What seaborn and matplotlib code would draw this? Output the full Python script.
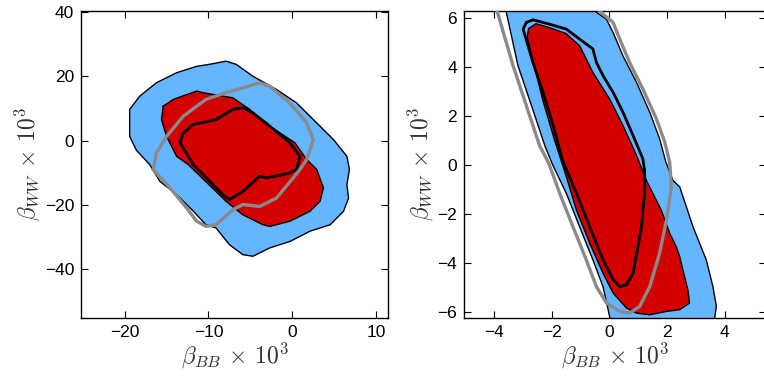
import numpy as np
import pandas as pd
import matplotlib
matplotlib.use("Agg")
import matplotlib.pyplot as plt
import seaborn as sns

# ---------------- data ----------------
# Left panel: outer (blue) region boundary
L_blue_x = [-19.4, -19.4, -18.2, -16.2, -13.8, -11.4, -9.9, -7.9, -6.7, -4.7, -1.9, 0.5, 2.9, 4.9, 6.5, 6.8,
            6.5, 6.7, 6.1, 4.5, 2.1, -0.3, -2.7, -4.7, -5.9, -7.5, -9.1, -10.3, -11.8, -13.8, -15.8, -17.0, -18.6]
L_blue_y = [1.3, 9.7, 13.8, 18.0, 21.1, 23.1, 23.7, 24.7, 23.7, 20.0, 15.9, 11.7, 5.5, 0.3, -4.9, -9.0,
            -13.7, -17.9, -22.0, -26.2, -28.2, -31.4, -33.4, -36.0, -35.5, -32.4, -27.2, -26.2, -22.0, -16.8,
            -12.7, -7.5, -3.0]
# Left panel: inner (red) region boundary
L_red_x = [-15.4, -14.2, -11.4, -10.7, -8.3, -7.1, -5.1, -2.7, 0.3, 1.7, 2.9, 3.7, 3.3, 2.1, -0.3, -2.7,
           -3.5, -5.9, -7.9, -12.4, -13.8, -15.0, -15.6]
L_red_y = [10.7, 12.8, 15.4, 14.9, 13.8, 13.3, 9.7, 4.5, -0.7, -5.9, -9.0, -14.7, -18.9, -22.0, -25.1, -26.7,
           -26.2, -23.1, -18.9, -7.5, -4.9, 1.3, 6.5]
# Left panel: black contour
L_black_x = [-13.4, -13.0, -11.8, -9.1, -7.1, -5.9, -4.7, -2.7, -0.3, 0.9, 0.5, -0.3, -1.1, -3.1, -3.9,
             -5.9, -7.5, -8.3, -11.8]
L_black_y = [-0.7, 2.4, 5.0, 6.5, 9.7, 10.2, 8.6, 4.5, -0.7, -4.9, -9.0, -10.0, -10.6, -11.6, -11.1,
             -15.8, -18.4, -16.8, -7.5]
# Left panel: gray contour
L_gray_x = [-16.6, -16.2, -15.0, -13.0, -10.3, -7.9, -5.9, -3.9, -2.7, -0.3, 1.7, 2.5, 1.7, 0.9, 0.1, -1.9,
            -3.9, -5.9, -7.1, -9.1, -10.3, -11.4, -12.6, -14.6]
L_gray_y = [-9.0, -3.8, 1.3, 7.6, 12.8, 14.9, 16.4, 18.0, 16.9, 11.7, 5.5, 0.3, -5.9, -9.0, -11.6, -17.9,
            -20.5, -19.9, -21.5, -26.2, -26.7, -25.1, -21.0, -14.7]

# Right panel: outer (blue) region boundary (runs past the axis limits at top and bottom)
R_blue_x = [-3.62, -3.57, -3.17, -2.70, -2.24, -1.97, -1.49, -1.03, -0.57, -0.22, 0.01, 0.20,
            3.70, 3.65, 3.71, 3.59, 3.36, 2.90, 2.44, 2.20, 1.95, 1.74, 1.40, 0.94, 0.47, 0.13, -0.10, -0.51, -0.70]
R_blue_y = [7.0, 6.20, 4.04, 2.41, 0.78, 0.00, -1.18, -2.54, -3.89, -4.98, -6.20, -7.0,
            -7.0, -6.26, -5.79, -4.98, -3.89, -2.54, -0.91, -0.64, 0.14, 1.06, 2.14, 3.36, 4.44, 5.39, 5.93, 6.27, 7.0]
# Right panel: inner (red) region boundary
R_red_x = [-2.80, -2.55, -2.10, -1.50, -1.03, -0.57, 0.01, 0.47, 0.94, 1.28, 1.51, 1.80, 2.09, 2.32, 2.44,
           2.55, 2.72, 2.78, 2.44, 1.98, 1.40, 0.94, 0.59, 0.13, -0.22, -0.68, -1.14, -1.49, -1.90, -2.30,
           -2.60, -2.85]
R_red_y = [5.55, 5.75, 5.60, 5.35, 4.85, 3.76, 2.68, 1.60, 0.38, -0.64, -1.18, -1.86, -2.80, -3.35, -3.76,
           -4.30, -5.11, -5.65, -5.92, -5.99, -6.13, -6.06, -5.85, -5.24, -4.43, -3.21, -1.86, -0.50, 1.00, 2.60,
           4.00, 5.20]
# Right panel: black contour
R_black_x = [-2.88, -2.65, -2.07, -1.49, -1.03, -0.57, -0.45, -0.22, 0.13, 0.47, 0.82, 1.16, 1.22, 1.22,
             1.11, 0.99, 0.82, 0.59, 0.36, 0.13, -0.22, -0.68, -1.14, -1.63, -1.95, -2.30, -2.65, -2.99]
R_black_y = [5.80, 5.91, 5.73, 5.53, 5.12, 4.72, 4.17, 3.63, 2.95, 2.14, 1.19, 0.24, -0.23, -1.18,
             -2.54, -3.35, -4.43, -4.91, -4.98, -4.70, -3.89, -2.54, -1.18, 0.20, 1.60, 2.95, 4.17, 5.53]
# Right panel: gray contour (open at the top)
R_gray_x = [-3.95, -3.86, -3.34, -2.88, -2.42, -2.10, -1.72, -1.26, -0.80, -0.45, -0.10, 0.36, 0.70, 1.05,
            1.40, 1.74, 1.98, 2.15, 2.09, 1.92, 1.63, 1.16, 0.70, 0.36, 0.13, -0.22, -0.50]
R_gray_y = [6.5, 6.14, 4.04, 2.41, 0.78, 0.05, -1.18, -2.54, -3.89, -4.98, -5.65, -5.99, -6.06, -5.79,
            -4.98, -3.62, -2.26, -0.91, 0.10, 0.92, 1.87, 3.09, 4.17, 5.12, 5.80, 6.14, 6.5]

L_xticks = [-20, -10, 0, 10]
L_yticks = [-40, -20, 0, 20, 40]
R_xticks = [-4, -2, 0, 2, 4]
R_yticks = [-6, -4, -2, 0, 2, 4, 6]

BLUE = "#66b5ff"
RED = "#d40000"
GRAY = "#8a8a8a"

# ---------------- style ----------------
sns.set_style("ticks")
plt.rcParams["font.family"] = ["Liberation Sans", "DejaVu Sans"]
plt.rcParams["mathtext.fontset"] = "cm"


def closed(xs, ys):
    return pd.DataFrame({"x": list(xs) + [xs[0]], "y": list(ys) + [ys[0]]})


def draw(ax, bx, by, rx, ry, kx, ky, gx, gy, gray_closed=True):
    b = closed(bx, by)
    r = closed(rx, ry)
    ax.fill(b["x"], b["y"], color=BLUE, zorder=1, lw=0)
    sns.lineplot(data=b, x="x", y="y", sort=False, estimator=None, color="black", lw=1.0, ax=ax, zorder=2)
    ax.fill(r["x"], r["y"], color=RED, zorder=3, lw=0)
    sns.lineplot(data=r, x="x", y="y", sort=False, estimator=None, color="black", lw=1.0, ax=ax, zorder=4)
    k = closed(kx, ky)
    sns.lineplot(data=k, x="x", y="y", sort=False, estimator=None, color="black", lw=2.0, ax=ax, zorder=5)
    g = closed(gx, gy) if gray_closed else pd.DataFrame({"x": gx, "y": gy})
    sns.lineplot(data=g, x="x", y="y", sort=False, estimator=None, color=GRAY, lw=2.4, ax=ax, zorder=6)


fig = plt.figure(figsize=(7.64, 3.76), dpi=100)
axL = fig.add_axes([81 / 764, 1 - 318 / 376, (388 - 81) / 764, (318 - 11) / 376])
axR = fig.add_axes([464 / 764, 1 - 318 / 376, (766 - 464) / 764, (318 - 11) / 376])

draw(axL, L_blue_x, L_blue_y, L_red_x, L_red_y, L_black_x, L_black_y, L_gray_x, L_gray_y)
draw(axR, R_blue_x, R_blue_y, R_red_x, R_red_y, R_black_x, R_black_y, R_gray_x, R_gray_y, gray_closed=False)

axL.set_xlim(-25.2, 11.4)
axL.set_ylim(-55.2, 40.3)
axL.set_xticks(L_xticks)
axL.set_yticks(L_yticks)
axR.set_xlim(-5.04, 5.43)
axR.set_ylim(-6.26, 6.27)
axR.set_xticks(R_xticks)
axR.set_yticks(R_yticks)

for ax in (axL, axR):
    for s in ax.spines.values():
        s.set_visible(True)
        s.set_linewidth(1.0)
        s.set_color("black")
    ax.tick_params(direction="in", top=True, right=True, length=5, width=0.8,
                   labelsize=12.5, colors="black", pad=5)
    ax.set_xlabel(r"$\beta_{BB}\,\times\,10^3$", fontsize=17, color="#333333", labelpad=0)
    ax.set_ylabel(r"$\beta_{WW}\,\times\,10^3$", fontsize=17, color="#333333", labelpad=2)

fig.savefig("out.png", dpi=100)
